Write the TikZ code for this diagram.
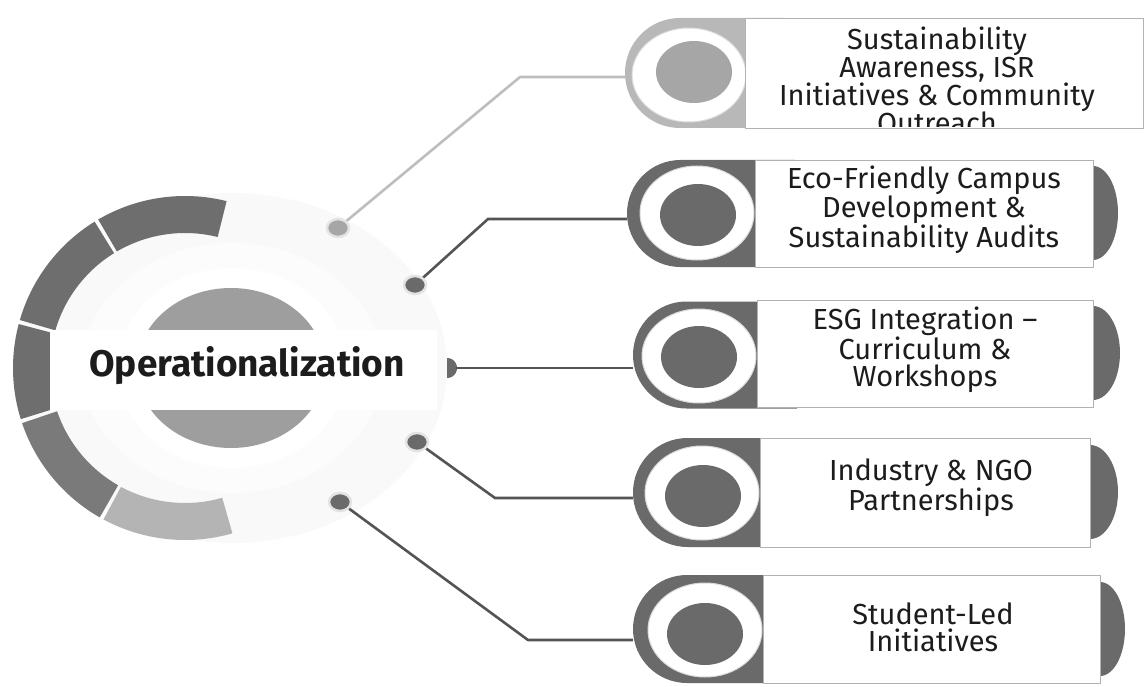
\documentclass[tikz,border=0pt]{standalone}
\usepackage{fontspec}
\setmainfont{Fira Sans}
\usetikzlibrary{shapes.geometric,shapes.misc}
\definecolor{segdark}{HTML}{6E6E6E}
\definecolor{seglight}{HTML}{B4B4B4}
\definecolor{pilldark}{HTML}{6A6A6A}
\definecolor{pilllight}{HTML}{B8B8B8}
\definecolor{innerlight}{HTML}{A6A6A6}
\definecolor{diskgray}{HTML}{9E9E9E}
\definecolor{linedark}{HTML}{545454}
\definecolor{linelight}{HTML}{BEBEBE}
\definecolor{ink}{HTML}{1C1C1C}
\newcommand\ringseg[3]{\fill[#3] plot[domain=#1:#2,samples=40] ({185+172*cos(\x)},{368-172*sin(\x)}) -- plot[domain=#2:#1,samples=40] ({185+135*cos(\x)},{368-135*sin(\x)}) -- cycle;}
\begin{document}
\begin{tikzpicture}[x=1pt,y=-1pt,
  pillshape/.style={rounded rectangle, rounded rectangle right arc=none, inner sep=0pt},
  ringshape/.style={ellipse, fill=white, draw=gray!30, line width=1pt, minimum width=114pt, minimum height=94pt, inner sep=0pt},
  coreshape/.style={ellipse, minimum width=76pt, minimum height=62pt, inner sep=0pt},
  boxshape/.style={rectangle, fill=white, draw=gray!60, line width=0.9pt, anchor=north west, inner sep=0pt},
  itemtext/.style={align=center, text=ink, font=\fontsize{29}{27}\selectfont},
  dotshape/.style={ellipse, draw=gray!22, line width=2.5pt, minimum width=22pt, minimum height=18pt, inner sep=0pt},
  conndark/.style={draw=linedark, line width=2.6pt},
  connlight/.style={draw=linelight, line width=2.6pt}]
\useasboundingbox (0,0) rectangle (1145,687);
\fill[white] (0,0) rectangle (1145,687);

% halo and inner rings
\node[ellipse, fill=gray!5, minimum width=430pt, minimum height=350pt, inner sep=0pt] (halo) at (232,368) {};
\node[ellipse, fill=gray!2, minimum width=300pt, minimum height=250pt, inner sep=0pt] (innerhalo) at (232,368) {};
\node[ellipse, fill=white, minimum width=230pt, minimum height=200pt, inner sep=0pt] (whitering) at (232,368) {};

% outer segmented ring
\ringseg{76}{120.3}{segdark}
\ringseg{121.7}{163.8}{segdark}
\ringseg{165.2}{197.3}{segdark}
\ringseg{198.7}{240.3}{segdark!92}
\ringseg{241.7}{286}{seglight}

% central disk and band
\node[ellipse, fill=diskgray, minimum width=188pt, minimum height=160pt, inner sep=0pt] (disk) at (231,368) {};
\node[rectangle, fill=white, minimum width=387pt, minimum height=80pt, inner sep=0pt] (band) at (243.5,370) {};
\node[text=ink, font=\bfseries\fontsize{37}{40}\selectfont] (title) at (247,366) {Operationalization};

% dots
\node[dotshape, fill=innerlight] (d1) at (338,228) {};
\node[dotshape, fill=pilldark] (d2) at (415,285) {};
\fill[pilldark] plot[domain=-90:90,samples=30] ({447+10*cos(\x)},{368-10*sin(\x)}) -- cycle;
\coordinate (d3) at (456,368);
\node[dotshape, fill=pilldark] (d4) at (417,442) {};
\node[dotshape, fill=pilldark] (d5) at (340,502) {};

% pills
\node[pillshape, fill=pilllight, minimum width=160pt, minimum height=110pt] (p1) at (705,73) {};
\node[pillshape, fill=pilldark, minimum width=168pt, minimum height=107pt] (p2) at (711,213.5) {};
\node[pillshape, fill=pilldark, minimum width=164pt, minimum height=107pt] (p3) at (715,355) {};
\node[pillshape, fill=pilldark, minimum width=167pt, minimum height=109pt] (p4) at (716.5,492.5) {};
\node[pillshape, fill=pilldark, minimum width=170pt, minimum height=108pt] (p5) at (718,629) {};

% connectors
\coordinate (c1) at (520,77);
\coordinate (c2) at (488,219);
\coordinate (c4) at (495,498);
\coordinate (c5) at (528,640);
\draw[connlight] (d1) -- (c1) -- (c1 -| p1.west);
\draw[conndark] (d2) -- (c2) -- (c2 -| p2.west);
\draw[conndark] (d3) -- (d3 -| p3.west);
\draw[conndark] (d4) -- (c4) -- (c4 -| p4.west);
\draw[conndark] (d5) -- (c5) -- (c5 -| p5.west);

% rings inside pills
\node[ringshape] (r1) at (689,75) {};
\node[coreshape, fill=innerlight] (k1) at (694,72) {};
\node[ringshape] (r2) at (697,213) {};
\node[coreshape, fill=pilldark] (k2) at (698,215) {};
\node[ringshape] (r3) at (699,356) {};
\node[coreshape, fill=pilldark] (k3) at (699,357) {};
\node[ringshape] (r4) at (702,493) {};
\node[coreshape, fill=pilldark] (k4) at (703,496) {};
\node[ringshape] (r5) at (705,630) {};
\node[coreshape, fill=pilldark] (k5) at (705,634) {};

% right caps
\fill[pilldark] plot[domain=-90:90,samples=30] ({1093+25*cos(\x)},{213-47*sin(\x)}) -- cycle;
\fill[pilldark] plot[domain=-90:90,samples=30] ({1093+27*cos(\x)},{353-47*sin(\x)}) -- cycle;
\fill[pilldark] plot[domain=-90:90,samples=30] ({1090+28*cos(\x)},{492-47*sin(\x)}) -- cycle;
\fill[pilldark] plot[domain=-90:90,samples=30] ({1100+25*cos(\x)},{629-47*sin(\x)}) -- cycle;

% boxes
\node[boxshape, minimum width=398pt, minimum height=110pt] (b1) at (745,18) {};
\node[boxshape, minimum width=338pt, minimum height=107pt] (b2) at (755,160) {};
\node[boxshape, minimum width=336pt, minimum height=107pt] (b3) at (757,300) {};
\node[boxshape, minimum width=330pt, minimum height=109pt] (b4) at (760,438) {};
\node[boxshape, minimum width=337pt, minimum height=108pt] (b5) at (763,575) {};

% texts
\begin{scope}
\clip (745,19) rectangle (1142,127);
\node[itemtext, font=\fontsize{29}{28}\selectfont] (t1) at (937,80) {Sustainability\\Awareness, ISR\\Initiatives \& Community\\Outreach};
\end{scope}
\node[itemtext] (t2) at (924,210) {Eco-Friendly Campus\\Development \&\\Sustainability Audits};
\node[itemtext] (t3) at (925,350) {ESG Integration –\\Curriculum \&\\Workshops};
\node[itemtext] (t4) at (931,488) {Industry \& NGO\\Partnerships};
\node[itemtext] (t5) at (933,627) {Student-Led\\Initiatives};
\end{tikzpicture}
\end{document}
